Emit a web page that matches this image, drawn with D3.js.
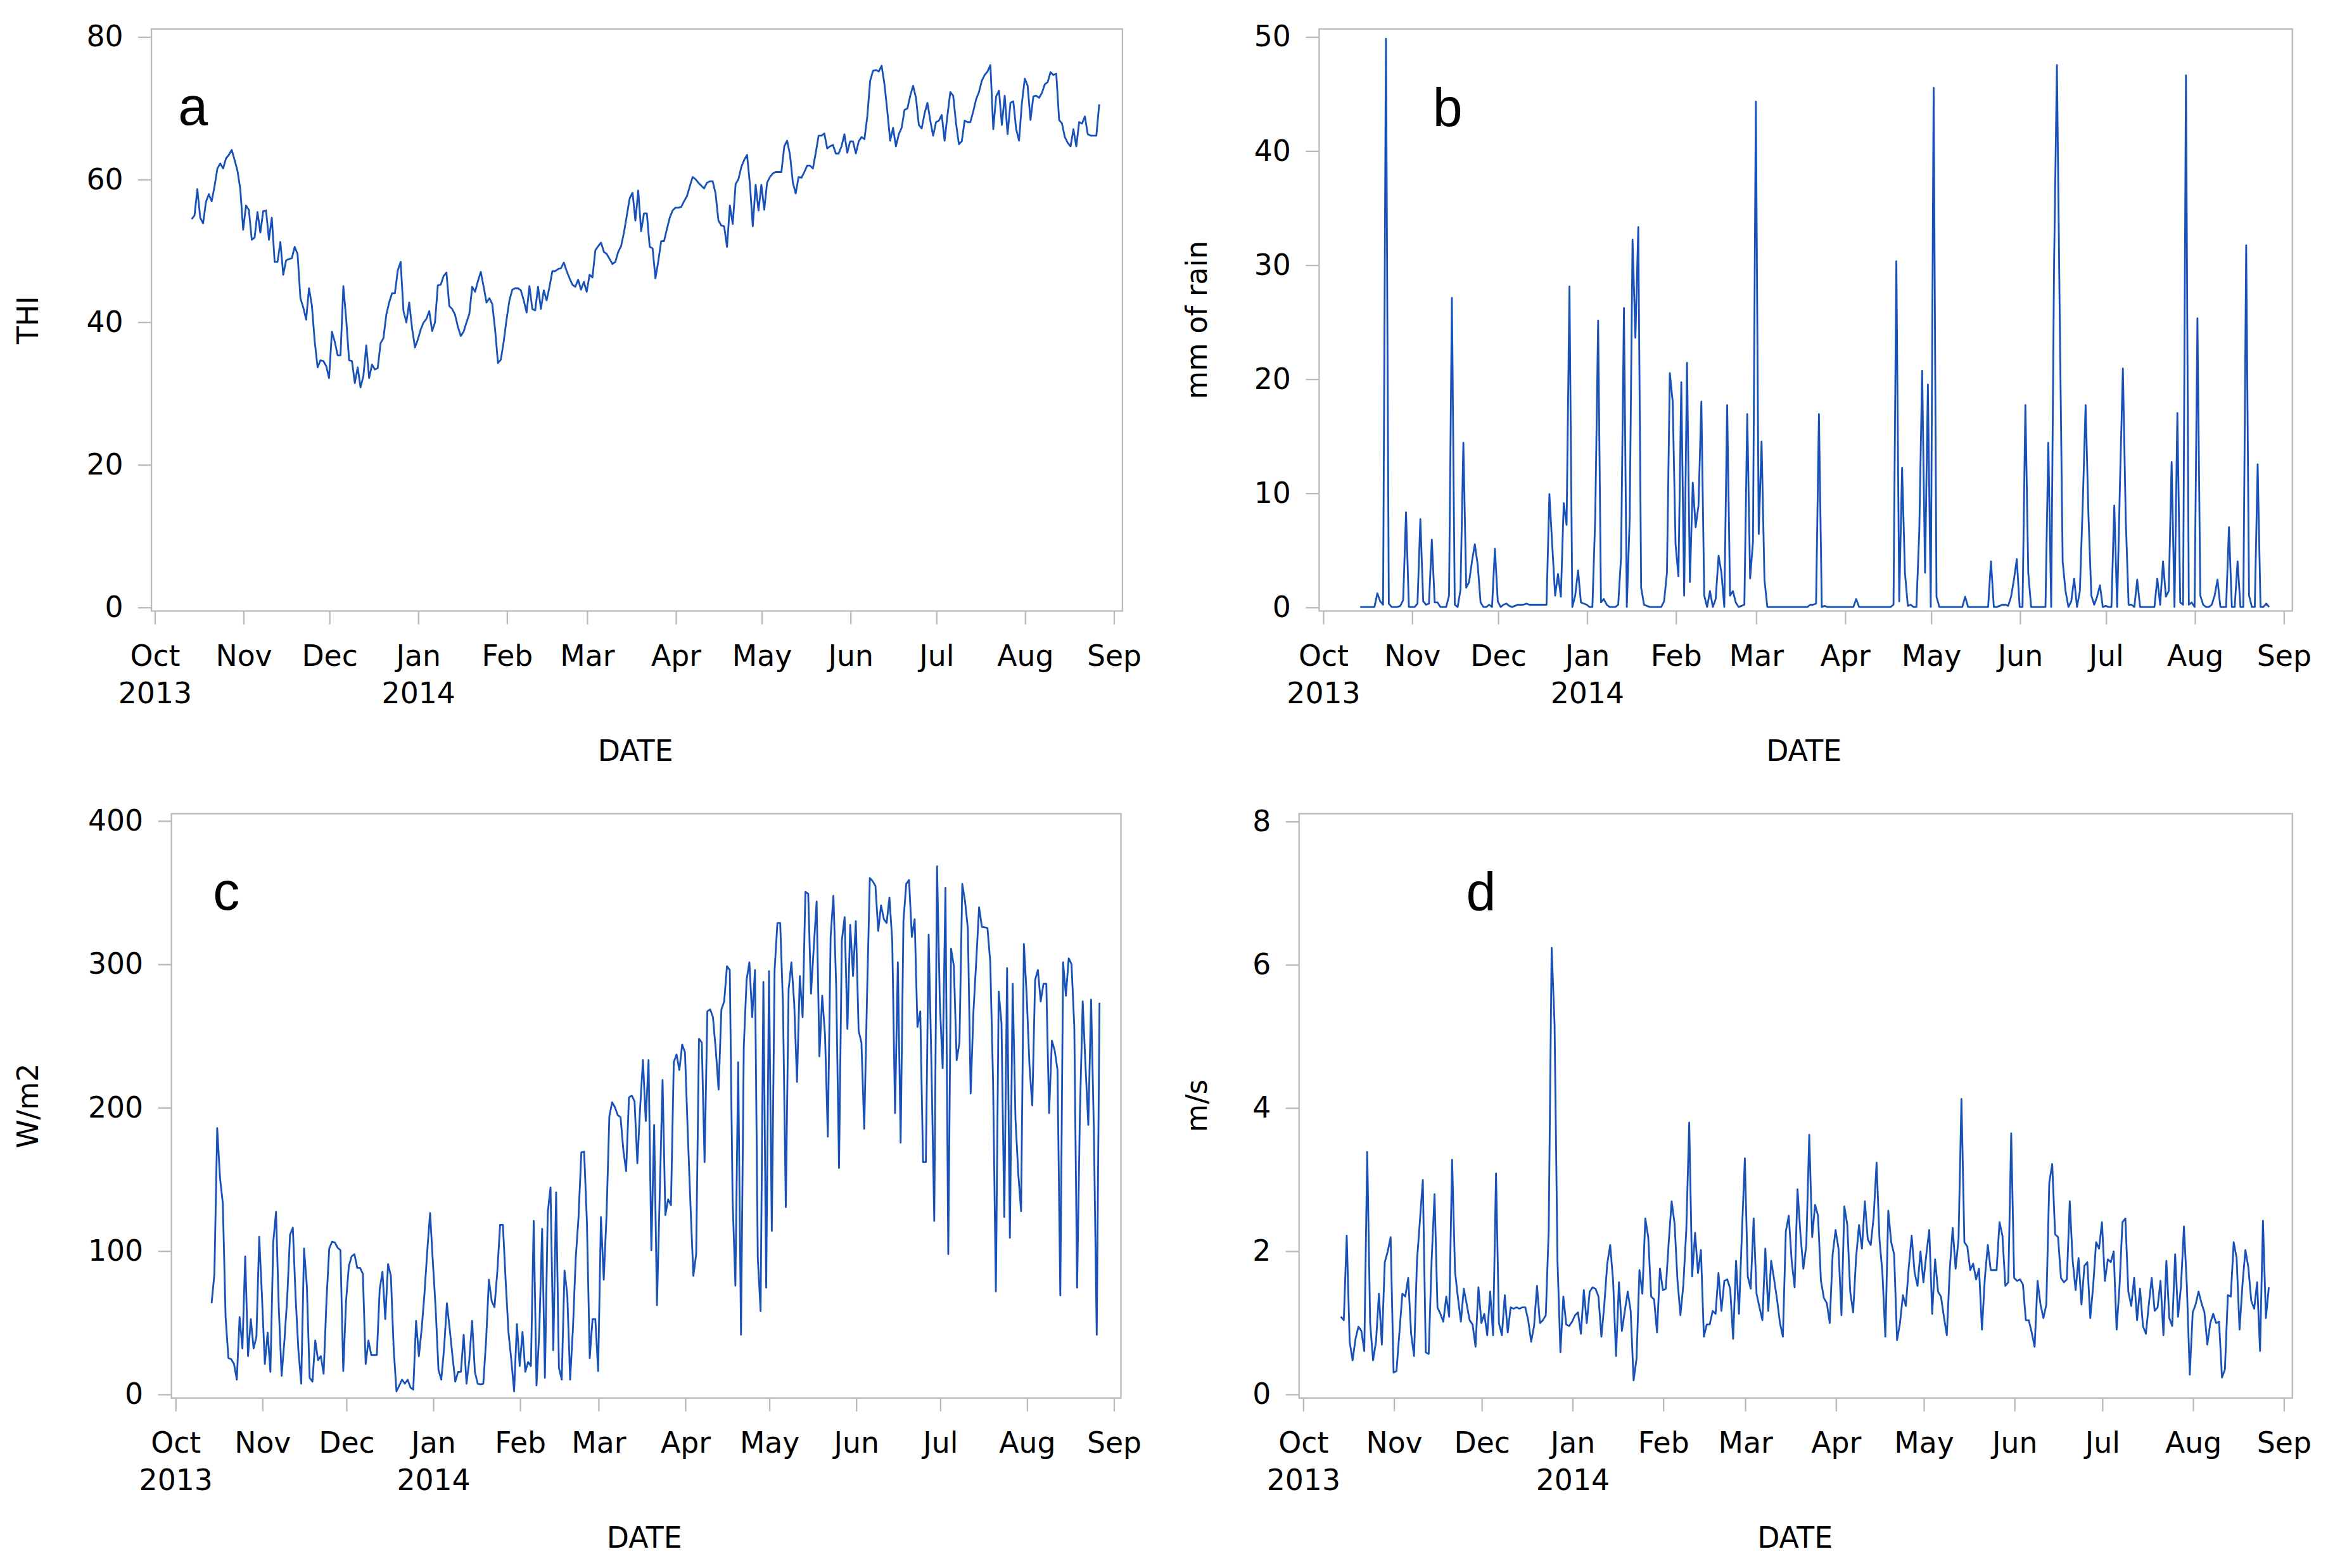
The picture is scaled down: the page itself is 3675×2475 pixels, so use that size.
<!DOCTYPE html>
<html>
<head>
<meta charset="utf-8">
<script src="https://cdn.jsdelivr.net/npm/d3@7"></script>
<style>
  body { margin: 0; background: #fff; }
  svg { display: block; }
</style>
</head>
<body>
<div id="chart"></div>
<script>
// daily readings from 14 Oct 2013 to 27 Aug 2014, one row per month
const firstDay = "2013-10-14";

const thi = [
  54.4, 54.9, 58.6, 54.6, 53.8, 56.8, 57.9, 56.9, 59, 61.5, 62.2, 61.5, 62.9, 63.4, 64.1, 62.7, 61.2, 58.6,
  52.9, 56.3, 55.7, 51.5, 51.8, 55.4, 52.5, 55.5, 55.6, 51.5, 54.6, 48.4, 48.4, 51.2, 46.6, 48.6, 48.8, 48.9, 50.5, 49.5, 43.3, 42, 40.3, 44.7, 42.3, 37.2, 33.6, 34.6, 34.5, 33.8,
  32.1, 38.6, 37.2, 35.3, 35.3, 45, 40.3, 34.6, 34.5, 31.4, 33.6, 30.8, 32.4, 36.7, 32.1, 34, 33.3, 33.5, 37, 37.7, 41, 42.7, 44, 44, 47.2, 48.4, 41.5, 39.9, 42.7, 39.1, 36.4,
  37.5, 38.9, 39.9, 40.4, 41.5, 38.7, 39.9, 45.1, 45.2, 46.4, 46.9, 42.2, 41.8, 41, 39.3, 38, 38.6, 39.9, 41.1, 44.9, 44.2, 45.7, 47, 44.9, 42.7, 43.3, 42.5, 38.9, 34.2, 34.7, 37.2,
  40.3, 43, 44.5, 44.7, 44.7, 44.4, 43, 41.3, 45, 41.8, 41.6, 44.9, 41.8, 44.4, 43, 44.9, 47.1, 47.1, 47.4, 47.5, 48.3, 47.1, 46.1, 45.2, 44.9, 45.9, 44.5, 45.6,
  44.2, 46.6, 46.2, 50, 50.6, 51.1, 49.8, 49.5, 48.8, 48.1, 48.4, 49.8, 50.6, 52.5, 54.9, 57.3, 58.1, 54.2, 58.4, 52.7, 55.2, 55.2, 50.5, 50.3, 46.1, 48.5, 51.3, 51.3, 53, 54.6, 55.6,
  56, 56, 56.1, 56.9, 57.6, 59, 60.3, 60, 59.5, 59.1, 58.7, 59.5, 59.7, 59.7, 58, 54.2, 53.5, 53.4, 50.5, 56.3, 53.7, 59.3, 60, 61.7, 62.7, 63.4, 59.3, 53.4, 59.2, 55.6,
  59.2, 55.7, 59.5, 60.3, 60.8, 61, 61, 61, 64.6, 65.4, 63.4, 59.5, 58, 60.3, 60.2, 61, 61.9, 61.9, 61.5, 63.7, 66.1, 66.1, 66.4, 64.3, 64.6, 64.8, 63.6, 63.6, 64.6, 66.3, 63.7,
  65.3, 65.3, 63.6, 65.3, 65.9, 65.6, 68.8, 73.8, 75.2, 75.3, 75.1, 75.9, 73.3, 69.5, 65.4, 67.2, 64.6, 66.3, 67.2, 69.7, 69.9, 71.7, 73.1, 71.4, 67.6, 67.1, 69.2, 70.7, 68.2, 66.1,
  68, 68.2, 69, 65.4, 69, 72.2, 71.7, 67.8, 64.9, 65.3, 68.2, 68, 68, 69.5, 71.2, 72.2, 73.8, 74.6, 75.1, 76, 67, 71.6, 72.4, 67.6, 71.7, 66.3, 70.7, 70.9, 67, 65.4, 70.7,
  74.1, 73.1, 68.3, 71.6, 71.7, 71.4, 72.1, 73.3, 73.6, 75, 74.6, 74.8, 68.3, 67.8, 65.9, 65.1, 64.6, 67, 64.6, 68, 67.8, 68.8, 66.3, 66.1, 66.1, 66.1, 70.5
];

const rain = [
  0, 0, 0, 0, 0, 0, 1.2, 0.5, 0.2, 49.8, 0.3, 0, 0, 0, 0.1, 0.6, 8.3, 0,
  0, 0, 0.3, 7.7, 0.5, 0.2, 0.3, 5.9, 0.4, 0.4, 0, 0, 0, 1, 27.1, 0.2, 0, 1.5, 14.4, 1.7, 2.2, 4, 5.5, 3.7, 0.4, 0, 0, 0.2, 0, 5.1,
  0.5, 0, 0.2, 0.3, 0.1, 0, 0.1, 0.2, 0.2, 0.2, 0.3, 0.2, 0.2, 0.2, 0.2, 0.2, 0.2, 0.2, 9.9, 5.4, 1, 2.9, 0.9, 9.1, 7.2, 28.1, 0, 1, 3.2, 0.4, 0.3,
  0.2, 0, 0, 8, 25.1, 0.4, 0.7, 0.2, 0, 0, 0, 0.2, 4.4, 26.2, 0, 7.7, 32.2, 23.6, 33.3, 1.7, 0.2, 0.1, 0, 0, 0, 0, 0, 0.5, 3, 20.5, 18,
  5.5, 2.7, 19.7, 1, 21.4, 2.2, 10.9, 7, 8.9, 18, 1, 0, 1.4, 0, 0.7, 4.5, 3, 0, 17.7, 1, 1.4, 0.4, 0, 0.1, 0.2, 16.9, 2.5, 5.7,
  44.3, 6.4, 14.5, 2.4, 0, 0, 0, 0, 0, 0, 0, 0, 0, 0, 0, 0, 0, 0, 0, 0.2, 0.2, 0.3, 16.9, 0, 0.1, 0, 0, 0, 0, 0, 0,
  0, 0, 0, 0, 0.7, 0, 0, 0, 0, 0, 0, 0, 0, 0, 0, 0, 0, 0.2, 30.3, 0.5, 12.2, 3, 0.1, 0.2, 0, 0, 6.7, 20.7, 3, 19.5,
  0, 45.5, 0.9, 0, 0, 0, 0, 0, 0, 0, 0, 0, 0.9, 0, 0, 0, 0, 0, 0, 0, 0, 4, 0, 0, 0.1, 0.2, 0.2, 0.1, 0.9, 2.4, 4.2,
  0, 0, 17.7, 3, 0, 0, 0, 0, 0, 0, 14.4, 0, 30, 47.5, 25, 4, 1.4, 0, 0.5, 2.5, 0, 1.4, 9, 17.7, 8, 1, 0.2, 0.9, 1.9, 0,
  0.1, 0, 0, 8.9, 0, 11, 20.9, 7.7, 0.2, 0.2, 0, 2.4, 0, 0, 0, 0, 0, 0, 2.5, 0.2, 4, 0.9, 1.4, 12.7, 0, 17, 0.4, 0.2, 46.6, 0.2, 0.4,
  0, 25.3, 1, 0.2, 0, 0, 0.2, 1, 2.4, 0, 0, 0, 7, 0, 0, 4, 0, 0, 31.7, 1, 0, 0, 12.5, 0, 0, 0.3, 0
];

const solar = [
  63.3, 83.8, 185.5, 150.8, 133, 53.7, 25, 24.2, 20.9, 10, 53.7, 31.8, 96, 26.4, 52.2, 31.8, 40, 109.7,
  67.3, 20.9, 42.8, 15.4, 105.7, 127, 59.2, 12.7, 37.3, 67.3, 111, 116, 67.3, 30, 7.2, 101.5, 75.6, 11.3, 8.6, 37.3, 23.6, 26.4, 14.1, 64.7, 101.5, 106.2, 105.7, 102, 100.2, 16,
  64.7, 89.3, 96, 97.5, 87.9, 87.9, 83.8, 20.9, 37.3, 27.2, 27.2, 27.2, 72.9, 85.2, 52.2, 90.6, 82.4, 31.8, 1.8, 5.9, 10, 7.2, 10, 4.5, 3.1, 51, 26.4, 45.5, 70, 100, 126.2,
  92, 59.2, 16.8, 10, 31.8, 63.3, 45.5, 26.4, 8.6, 15.4, 15.4, 41.3, 7.2, 23.6, 51, 15.4, 7.2, 6.7, 7.2, 37.3, 79.7, 64.7, 60.5, 85.2, 118, 118, 78.3, 42.8, 23.6, 1.8, 48.8,
  19.5, 43.3, 15.4, 22.3, 19.5, 120.7, 5.9, 44.1, 115.2, 11.3, 126.2, 144, 30.5, 140.6, 18.2, 10, 86, 68.7, 10, 45.5, 94.7, 123.4, 168.6, 169, 119.3, 25, 52.2, 52.2,
  16, 123.4, 79.7, 124.8, 193.7, 203.5, 200, 194.5, 193.1, 170, 155.4, 206.8, 208.2, 204.1, 160.9, 200, 232.8, 190.4, 232.8, 100.2, 187.7, 61.9, 140, 219, 124.8, 135.7, 131.6, 231.4, 236.8, 226, 243.7,
  238.3, 182.2, 130, 82.4, 97.5, 247.8, 245.1, 161.7, 266.9, 268.3, 262.8, 240, 212.3, 268.3, 273.8, 298.4, 295.7, 135.7, 75.6, 231.4, 41.3, 242.4, 288.8, 301.1, 262.8, 295.7, 94.7, 57.8, 287.4, 74.2,
  294.9, 113.8, 295.7, 328.5, 328.5, 270.9, 130.3, 282, 301.1, 272.4, 217.7, 291.5, 262.8, 350.3, 348.9, 279.2, 312, 343.5, 235.5, 277.8, 250.5, 179.5, 318.9, 347.5, 283.4, 157.6, 316.2, 332.6, 254.6, 327.2, 291.5,
  329.9, 253.3, 245.1, 185, 277.8, 359.9, 357.7, 354.4, 323, 340.8, 331.2, 328.5, 346.2, 316.2, 195.9, 301.1, 175.3, 329.9, 355.8, 358.5, 318.9, 331.2, 256, 266.9, 161.7, 161.7, 320.3, 228.7, 120.7, 368.1,
  272.4, 227.3, 353, 97.5, 310.6, 298.4, 232.8, 245.1, 355.8, 343.5, 324.4, 209.6, 266.9, 302.4, 339.5, 325.8, 325.5, 325, 301.1, 217.7, 71.5, 280.7, 258.9, 123.4, 297, 108.9, 286.1, 191.8, 153.5, 127.5, 313.9,
  277.8, 228.7, 201.3, 288.8, 295.7, 273.8, 286.1, 286.1, 195.9, 246.4, 239.6, 226, 68.7, 301.1, 277.8, 303.9, 299.8, 256, 74.2, 195.9, 273.8, 228.7, 187.7, 275.1, 182.2, 41.3, 272.9
];

const wind = [
  1.08, 1.03, 2.21, 0.73, 0.47, 0.77, 0.94, 0.88, 0.6, 3.38, 0.99, 0.47, 0.73, 1.4, 0.69, 1.84, 1.99, 2.19,
  0.3, 0.32, 0.86, 1.4, 1.36, 1.62, 0.84, 0.53, 1.86, 2.42, 2.99, 0.58, 0.56, 1.86, 2.79, 1.21, 1.12, 1.01, 1.36, 1.08, 3.27, 1.71, 1.34, 1.01, 1.47, 1.25, 1.03, 0.97, 0.66, 1.49,
  0.99, 1.12, 0.82, 1.43, 0.82, 3.08, 0.99, 0.82, 1.38, 0.86, 1.21, 1.19, 1.21, 1.19, 1.21, 1.21, 1.03, 0.73, 0.95, 1.51, 0.99, 1.03, 1.1, 2.29, 6.23, 5.16, 1.86, 0.58, 1.36, 0.97, 0.95,
  1.01, 1.1, 1.14, 0.84, 1.45, 0.99, 1.43, 1.49, 1.47, 1.36, 0.8, 1.25, 1.82, 2.08, 1.58, 0.53, 1.56, 0.88, 1.16, 1.43, 1.16, 0.19, 0.49, 1.73, 1.4, 2.45, 2.19, 1.36, 1.32, 0.86, 1.75,
  1.45, 1.47, 2.12, 2.69, 2.38, 1.58, 1.1, 1.53, 2.29, 3.79, 1.64, 2.25, 1.69, 2.01, 0.8, 0.97, 0.97, 1.16, 1.12, 1.69, 1.16, 1.58, 1.6, 1.47, 0.77, 1.86, 1.12, 2.25,
  3.29, 1.64, 1.47, 2.45, 1.4, 1.21, 1.03, 2.03, 1.16, 1.86, 1.6, 1.32, 0.99, 0.8, 2.27, 2.49, 1.86, 1.49, 2.86, 2.23, 1.75, 2.08, 3.62, 2.19, 2.64, 2.49, 1.58, 1.34, 1.27, 0.99, 1.95,
  2.29, 2.03, 1.1, 2.62, 2.36, 1.43, 1.14, 1.9, 2.36, 2.03, 2.69, 2.16, 2.08, 2.47, 3.23, 2.16, 1.69, 0.8, 2.56, 2.12, 1.95, 0.75, 0.99, 1.38, 1.23, 1.77, 2.21, 1.69, 1.51, 1.99,
  1.56, 1.95, 2.29, 1.12, 1.88, 1.43, 1.36, 1.08, 0.82, 1.73, 2.32, 1.75, 2.16, 4.12, 2.12, 2.06, 1.73, 1.82, 1.6, 1.75, 0.9, 1.62, 2.08, 1.73, 1.73, 1.73, 2.4, 2.21, 1.51, 1.56, 3.64,
  1.62, 1.58, 1.6, 1.53, 1.03, 1.03, 0.86, 0.66, 1.58, 1.25, 1.06, 1.25, 2.95, 3.21, 2.23, 2.19, 1.62, 1.56, 1.6, 2.69, 1.86, 1.45, 1.9, 1.25, 1.79, 1.84, 1.06, 1.51, 2.12, 2.03,
  2.4, 1.58, 1.88, 1.84, 1.99, 0.9, 1.51, 2.4, 2.45, 1.43, 1.23, 1.62, 1.03, 1.47, 0.95, 0.84, 1.25, 1.62, 1.16, 1.21, 1.58, 0.82, 1.86, 1.06, 0.95, 1.95, 1.08, 1.51, 2.34, 1.51, 0.27,
  1.14, 1.25, 1.43, 1.27, 1.14, 0.69, 0.99, 1.12, 0.99, 1.01, 0.23, 0.34, 1.38, 1.36, 2.12, 1.9, 0.9, 1.53, 2.01, 1.77, 1.3, 1.19, 1.56, 0.6, 2.42, 1.06, 1.49
];

const monthLabels = ["Oct", "Nov", "Dec", "Jan", "Feb", "Mar", "Apr", "May", "Jun", "Jul", "Aug", "Sep"];
const yearLabels = { "Oct": "2013", "Jan": "2014" };
const panelLetters = ["a", "b", "c", "d"];
const yTitles = ["THI", "mm of rain", "W/m2", "m/s"];
const yTicks = [
  [0, 20, 40, 60, 80],
  [0, 10, 20, 30, 40, 50],
  [0, 100, 200, 300, 400],
  [0, 2, 4, 6, 8]
];

// layout in a 1568 x 1056 frame, scaled up to the page size
const layout = [
  { frame: [102, 756, 19.5, 411.5], xr: [104, 750], yr: [408.8, 24.6], title: 19, letter: [130, 84], date: 428 },
  { frame: [888.5, 1544, 19.5, 411.5], xr: [891, 1538], yr: [408.8, 24.6], title: 806, letter: [975, 85], date: 1215 },
  { frame: [115.5, 755, 548, 941.5], xr: [118, 750], yr: [938.8, 552.6], title: 19, letter: [152.5, 612.5], date: 434 },
  { frame: [875, 1544, 548, 941.5], xr: [877.5, 1538], yr: [938.8, 553], title: 806, letter: [997.5, 613], date: 1209 }
];

const lineColor = "#1852b8";
const frameColor = "#b7bbbf";
const labelFont = "DejaVu Sans";
const fontSize = 19.5;

let svg = d3.select("#chart").append("svg")
  .attr("width", 3675)
  .attr("height", 2475)
  .attr("viewBox", "0 0 1568 1056");

svg.append("rect")
  .attr("width", 1568).attr("height", 1056)
  .attr("fill", "#fff");

let start = d3.timeParse("%Y-%m-%d")(firstDay);
let monthTicks = d3.timeMonth.range(new Date(2013, 9, 1), new Date(2014, 8, 2));
let series = [thi, rain, solar, wind];

series.forEach(function(vals, k) {
  let L = layout[k];
  let g = svg.append("g").attr("id", "panel-" + panelLetters[k]);

  let x = d3.scaleTime()
    .domain([new Date(2013, 9, 1), new Date(2014, 8, 1)])
    .range(L.xr);
  let y = d3.scaleLinear()
    .domain(d3.extent(yTicks[k]))
    .range(L.yr);

  // frame
  g.append("rect")
    .attr("x", L.frame[0])
    .attr("y", L.frame[2])
    .attr("width", L.frame[1] - L.frame[0])
    .attr("height", L.frame[3] - L.frame[2])
    .attr("fill", "none")
    .attr("stroke", frameColor)
    .attr("stroke-width", 1);

  // y axis
  let yAxis = g.append("g")
    .attr("transform", "translate(" + L.frame[0] + ",0)")
    .call(d3.axisLeft(y).tickValues(yTicks[k]).tickSize(9).tickPadding(10));
  yAxis.select(".domain").remove();

  // x axis
  let xAxis = g.append("g")
    .attr("transform", "translate(0," + L.frame[3] + ")")
    .call(d3.axisBottom(x).tickValues(monthTicks).tickSize(9)
      .tickFormat((d, i) => monthLabels[i]));
  xAxis.select(".domain").remove();
  xAxis.selectAll(".tick text")
    .attr("y", 37)
    .attr("dy", null)
    .each(function(d, i) {
      let yr = yearLabels[monthLabels[i]];
      if (yr) {
        d3.select(this).append("tspan")
          .attr("x", 0)
          .attr("y", 62)
          .text(yr);
      }
    });

  g.selectAll(".tick line")
    .attr("stroke", frameColor)
    .attr("stroke-width", 1);
  g.selectAll(".tick text")
    .attr("fill", "#000")
    .attr("font-family", labelFont)
    .attr("font-size", fontSize);
  yAxis.attr("font-family", null).attr("font-size", null);
  xAxis.attr("font-family", null).attr("font-size", null);

  // titles
  g.append("text")
    .attr("x", L.date)
    .attr("y", L.frame[3] + 101)
    .attr("text-anchor", "middle")
    .attr("font-family", labelFont)
    .attr("font-size", fontSize)
    .text("DATE");

  g.append("text")
    .attr("transform", "translate(" + L.title + "," + (L.frame[2] + L.frame[3]) / 2 + ") rotate(-90)")
    .attr("text-anchor", "middle")
    .attr("dominant-baseline", "central")
    .attr("font-family", labelFont)
    .attr("font-size", fontSize)
    .text(yTitles[k]);

  g.append("text")
    .attr("x", L.letter[0])
    .attr("y", L.letter[1])
    .attr("text-anchor", "middle")
    .attr("font-family", "Liberation Sans, Arial, sans-serif")
    .attr("font-size", 36)
    .text(panelLetters[k]);

  // series line
  let line = d3.line()
    .x((v, i) => x(d3.timeDay.offset(start, i)))
    .y(v => y(v));

  g.append("path")
    .datum(vals)
    .attr("d", line)
    .attr("fill", "none")
    .attr("stroke", lineColor)
    .attr("stroke-width", 1.2)
    .attr("stroke-linejoin", "round");
});
</script>
</body>
</html>
